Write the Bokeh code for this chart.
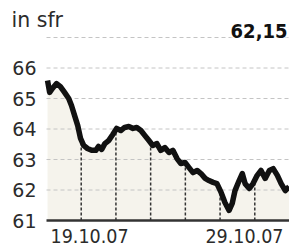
from bokeh.plotting import figure
from bokeh.models import Range1d, Label
from bokeh.core.properties import value
from bokeh.embed import file_html
from bokeh.resources import INLINE
import numpy as np

# trading-day position (0 = start of 19.10.07, 7 = end of 29.10.07) and price in sfr
day_pos = [0.03, 0.09, 0.17, 0.29, 0.40, 0.52, 0.64, 0.72, 0.81, 0.90, 0.98,
           1.07, 1.18, 1.30, 1.42, 1.50, 1.59, 1.68, 1.79, 1.91, 2.02, 2.14,
           2.25, 2.37, 2.49, 2.60, 2.72, 2.83, 2.95, 3.06, 3.18, 3.29, 3.41,
           3.53, 3.64, 3.76, 3.87, 3.99, 4.10, 4.22, 4.34, 4.45, 4.57, 4.68,
           4.80, 4.91, 5.03, 5.14, 5.26, 5.35, 5.43, 5.55, 5.64, 5.72, 5.84,
           5.95, 6.07, 6.18, 6.30, 6.42, 6.53, 6.65, 6.76, 6.88, 6.99]
price = [65.59, 65.20, 65.33, 65.49, 65.39, 65.20, 65.00, 64.77, 64.44, 64.11, 63.69,
         63.46, 63.36, 63.30, 63.30, 63.43, 63.33, 63.52, 63.62, 63.82, 64.02, 63.95,
         64.05, 64.08, 64.02, 64.05, 63.95, 63.79, 63.62, 63.46, 63.52, 63.30, 63.39,
         63.23, 63.30, 63.03, 62.87, 62.90, 62.74, 62.57, 62.64, 62.54, 62.38, 62.31,
         62.25, 62.21, 61.92, 61.59, 61.33, 61.56, 61.98, 62.31, 62.54, 62.21, 62.05,
         62.21, 62.48, 62.64, 62.38, 62.64, 62.70, 62.48, 62.21, 61.98, 62.11]
y_ticks = [61, 62, 63, 64, 65, 66]
y_tick_labels = ["61", "62", "63", "64", "65", "66"]
grid_levels = [62, 63, 64, 65, 66, 67]
day_bounds = [1, 2, 3, 4, 5, 6]
date_labels = ["19.10.07", "29.10.07"]
unit_label = "in sfr"
last_value = "62,15"

FONT = "DejaVu Sans"
FONT_C = "DejaVu Sans Condensed"
TXT = "#2b2b2b"
W, H = 289, 247
XS = (289 - 46) / 7.0      # px per trading day
YS = 30.5                  # px per sfr

p = figure(width=W, height=H,
           x_range=Range1d(-46 / XS, 7), y_range=Range1d(61 - 27 / YS, 61 + 220 / YS),
           output_backend="svg", toolbar_location=None,
           min_border=0)
p.outline_line_color = None
p.xgrid.visible = False
p.ygrid.visible = False
p.xaxis.visible = False
p.yaxis.visible = False
p.background_fill_color = "white"
p.border_fill_color = "white"

# area under the curve
p.varea(x=day_pos, y1=61, y2=price, fill_color="#f5f3ec")

# horizontal dashed grid
n = len(grid_levels)
p.segment(x0=[0] * n, x1=[7] * n, y0=grid_levels, y1=grid_levels,
          line_color="#c4c4c4", line_width=1, line_dash="4 3")

# vertical day separators under the curve
tops = np.interp(day_bounds, day_pos, price)
p.segment(x0=day_bounds, x1=day_bounds, y0=[61] * len(day_bounds), y1=tops,
          line_color="#333333", line_width=1.5, line_dash="3 2")

p.line(day_pos, price, line_color="#111111", line_width=5.5, line_join="round")

# baseline
p.segment(x0=[0], x1=[7], y0=[61], y1=[61], line_color="#333333", line_width=2.5)

# y tick labels
p.text(x=[0] * len(y_ticks), y=y_ticks, text=y_tick_labels, x_offset=-10,
       text_align="right", text_baseline="middle",
       text_font=value(FONT), text_font_size=value("19px"), text_color=TXT)

p.add_layout(Label(x=0, y=61, x_offset=4, y_offset=-15.5, text=date_labels[0],
                   text_align="left", text_baseline="middle",
                   text_font=FONT_C, text_font_size="19.5px", text_color=TXT))
p.add_layout(Label(x=7, y=61, x_offset=-6, y_offset=-15.5, text=date_labels[1],
                   text_align="right", text_baseline="middle",
                   text_font=FONT_C, text_font_size="19.5px", text_color=TXT))
p.add_layout(Label(x=0, y=67, x_offset=-35, y_offset=18, text=unit_label,
                   text_align="left", text_baseline="middle",
                   text_font=FONT, text_font_size="20.5px", text_color=TXT))
p.add_layout(Label(x=7, y=67, x_offset=-2, y_offset=7, text=last_value,
                   text_align="right", text_baseline="middle",
                   text_font=FONT_C, text_font_size="20px", text_font_style="bold",
                   text_color="#111111", background_fill_color="white"))

open("out.html", "w").write(file_html(p, INLINE))
